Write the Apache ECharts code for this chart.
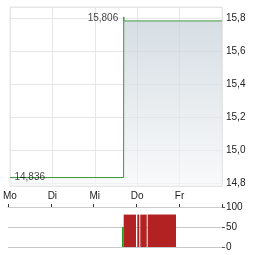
<!DOCTYPE html>
<html>
<head>
<meta charset="utf-8">
<script src="https://cdn.jsdelivr.net/npm/echarts@6/dist/echarts.min.js"></script>
<style>
  html, body { margin: 0; padding: 0; background: #fff; }
  #main { width: 264px; height: 255px; }
</style>
</head>
<body>
<div id="main"></div>
<script>
// x is measured in trading days from Monday 00:00
const dayLabels = ['Mo', 'Di', 'Mi', 'Do', 'Fr'];

const priceTime = [0, 2.68, 2.683, 2.69, 5];
const priceValue = [14.836, 14.836, 15.806, 15.782, 15.782];

const priceMin = 14.785;
const priceMax = 15.866;

// volume blocks: start, end, value
const volUpStart = [2.664];
const volUpEnd = [2.703];
const volUpValue = [50];

const volDownStart = [2.703, 3.021, 3.091, 3.264];
const volDownEnd = [2.991, 3.068, 3.241, 3.925];
const volDownValue = [81, 81, 81, 81];

const volTicks = [0, 50, 100];

const font = 'Liberation Sans, Arial, sans-serif';

const myChart = echarts.init(document.getElementById('main'));

const priceData = priceTime.map((t, i) => [t, priceValue[i]]);
const fmt3 = p => p.value[1].toFixed(3).replace('.', ',');

// the two value labels: highest and first point
const hiIdx = priceValue.indexOf(Math.max(...priceValue));
const labelData = [
  { value: priceData[hiIdx], label: { position: 'left', distance: 5, offset: [0, 1] } },
  { value: priceData[0], label: { position: 'right', distance: 4, offset: [0, 0] } }
];

function blocks(starts, ends, values) {
  return starts.map((s, i) => [s, ends[i], values[i]]);
}

function renderBlock(params, api) {
  const p0 = api.coord([api.value(0), 0]);
  const p1 = api.coord([api.value(1), api.value(2)]);
  return {
    type: 'rect',
    shape: { x: p0[0], y: p1[1], width: p1[0] - p0[0], height: p0[1] - p1[1] },
    style: { fill: api.visual('color') }
  };
}

const option = {
  animation: false,
  textStyle: { fontFamily: font },
  grid: [
    { left: 8, top: 7, width: 214, height: 179, show: true, borderColor: '#e6e6e6', borderWidth: 1 },
    { left: 8, top: 207, width: 214, height: 40 }
  ],
  xAxis: [
    {
      type: 'value', gridIndex: 0, min: 0, max: 5, interval: 1,
      axisLine: { show: false },
      axisTick: { show: false },
      axisLabel: {
        color: '#222', fontSize: 10, margin: 5,
        formatter: v => dayLabels[v] || ''
      },
      splitLine: { show: true, lineStyle: { color: '#e6e6e6', width: 1 } }
    },
    {
      type: 'value', gridIndex: 1, min: 0, max: 5, interval: 1, position: 'top',
      axisLine: { show: true, onZero: false, lineStyle: { color: '#cccccc' } },
      axisTick: { show: true, length: 3, lineStyle: { color: '#333' } },
      axisLabel: { show: false },
      splitLine: { show: false }
    }
  ],
  yAxis: [
    {
      type: 'value', gridIndex: 0, position: 'right',
      min: priceMin, max: priceMax, splitNumber: 5,
      axisLine: { show: false },
      axisTick: { show: false },
      axisLabel: {
        color: '#222', fontSize: 10, margin: 4,
        showMinLabel: false, showMaxLabel: false,
        formatter: v => v.toFixed(1).replace('.', ',')
      },
      splitLine: { show: true, lineStyle: { color: '#e6e6e6', width: 1 } }
    },
    {
      type: 'value', gridIndex: 1, position: 'right',
      min: volTicks[0], max: volTicks[volTicks.length - 1], interval: volTicks[1] - volTicks[0],
      axisLine: { show: false, onZero: false },
      axisTick: { show: true, length: 3, lineStyle: { color: '#555' } },
      axisLabel: { color: '#222', fontSize: 10, margin: 4 },
      splitLine: { show: true, lineStyle: { color: '#c8c8c8', width: 1 } }
    }
  ],
  series: [
    {
      type: 'line',
      xAxisIndex: 0, yAxisIndex: 0,
      data: priceData,
      symbol: 'none',
      lineStyle: { color: '#3d963d', width: 1 },
      areaStyle: {
        origin: 'start',
        color: new echarts.graphic.LinearGradient(0, 0, 0, 1, [
          { offset: 0, color: '#c3ced7' },
          { offset: 1, color: '#f5f7f8' }
        ])
      },
      z: 3
    },
    {
      type: 'scatter',
      xAxisIndex: 0, yAxisIndex: 0,
      data: labelData,
      symbolSize: 1,
      itemStyle: { color: 'rgba(0,0,0,0)' },
      label: { show: true, color: '#111', fontSize: 10, fontFamily: font, formatter: fmt3 },
      z: 4
    },
    {
      type: 'custom',
      xAxisIndex: 1, yAxisIndex: 1,
      data: blocks(volUpStart, volUpEnd, volUpValue),
      itemStyle: { color: '#1e9a1e' },
      renderItem: renderBlock
    },
    {
      type: 'custom',
      xAxisIndex: 1, yAxisIndex: 1,
      data: blocks(volDownStart, volDownEnd, volDownValue),
      itemStyle: { color: '#b22222' },
      renderItem: renderBlock
    }
  ]
};

myChart.setOption(option);
</script>
</body>
</html>
